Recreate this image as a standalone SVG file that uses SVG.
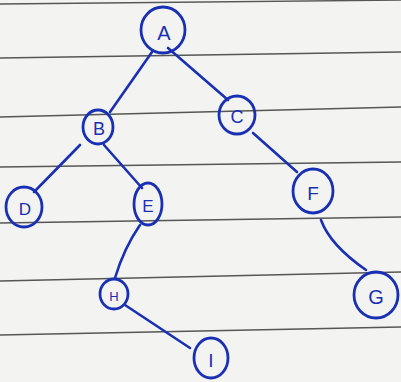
<svg xmlns="http://www.w3.org/2000/svg" width="401" height="382" viewBox="0 0 401 382">
<style>
.paper{fill:#f3f3f1}
.rule{stroke:#3a3a3a;stroke-width:1.3;fill:none;opacity:0.85}
.node{fill:none;stroke:#1a30b4;stroke-width:2.8}
.edge{fill:none;stroke:#1a30b4;stroke-width:2.6;stroke-linecap:round}
.lbl{font-family:"Liberation Sans",Arial,sans-serif;fill:#1a30b4;text-anchor:middle;dominant-baseline:central}
</style>
<rect class="paper" x="0" y="0" width="401" height="382"/>
<g id="rules">
<line class="rule" x1="0" y1="4" x2="401" y2="0"/>
<line class="rule" x1="0" y1="58" x2="401" y2="52"/>
<line class="rule" x1="0" y1="117" x2="401" y2="107"/>
<line class="rule" x1="0" y1="167" x2="401" y2="162"/>
<line class="rule" x1="0" y1="223" x2="401" y2="217"/>
<line class="rule" x1="0" y1="281" x2="401" y2="272"/>
<line class="rule" x1="0" y1="335" x2="401" y2="327"/>
</g>
<g id="connectors">
<path class="edge" d="M152 52 L110 112"/>
<path class="edge" d="M168 48 L228 100"/>
<path class="edge" d="M80 145 L34 192"/>
<path class="edge" d="M104 145 L142 188"/>
<path class="edge" d="M253 133 L297 172"/>
<path class="edge" d="M140 225 Q124 248 115 278"/>
<path class="edge" d="M321 220 Q330 245 366 270"/>
<path class="edge" d="M125 305 L190 348"/>
</g>
<g id="node-A"><ellipse class="node" cx="163" cy="30" rx="22" ry="23"/><text class="lbl" x="164" y="33" font-size="20">A</text></g>
<g id="node-B"><ellipse class="node" cx="98" cy="127" rx="15" ry="17"/><text class="lbl" x="99" y="129" font-size="18">B</text></g>
<g id="node-C"><ellipse class="node" cx="237" cy="115" rx="18" ry="19"/><text class="lbl" x="237" y="117" font-size="18">C</text></g>
<g id="node-D"><ellipse class="node" cx="24" cy="207" rx="18" ry="20"/><text class="lbl" x="25" y="209" font-size="17">D</text></g>
<g id="node-E"><ellipse class="node" cx="148" cy="204" rx="14" ry="21"/><text class="lbl" x="148" y="206" font-size="17">E</text></g>
<g id="node-F"><ellipse class="node" cx="313" cy="191" rx="20" ry="22"/><text class="lbl" x="313" y="193" font-size="19">F</text></g>
<g id="node-H"><ellipse class="node" cx="114" cy="294" rx="14" ry="15"/><text class="lbl" x="114" y="296" font-size="13">H</text></g>
<g id="node-G"><ellipse class="node" cx="376" cy="295" rx="22" ry="23"/><text class="lbl" x="376" y="297" font-size="20">G</text></g>
<g id="node-I"><ellipse class="node" cx="211" cy="358" rx="17" ry="20"/><text class="lbl" x="211" y="360" font-size="19">I</text></g>
</svg>
